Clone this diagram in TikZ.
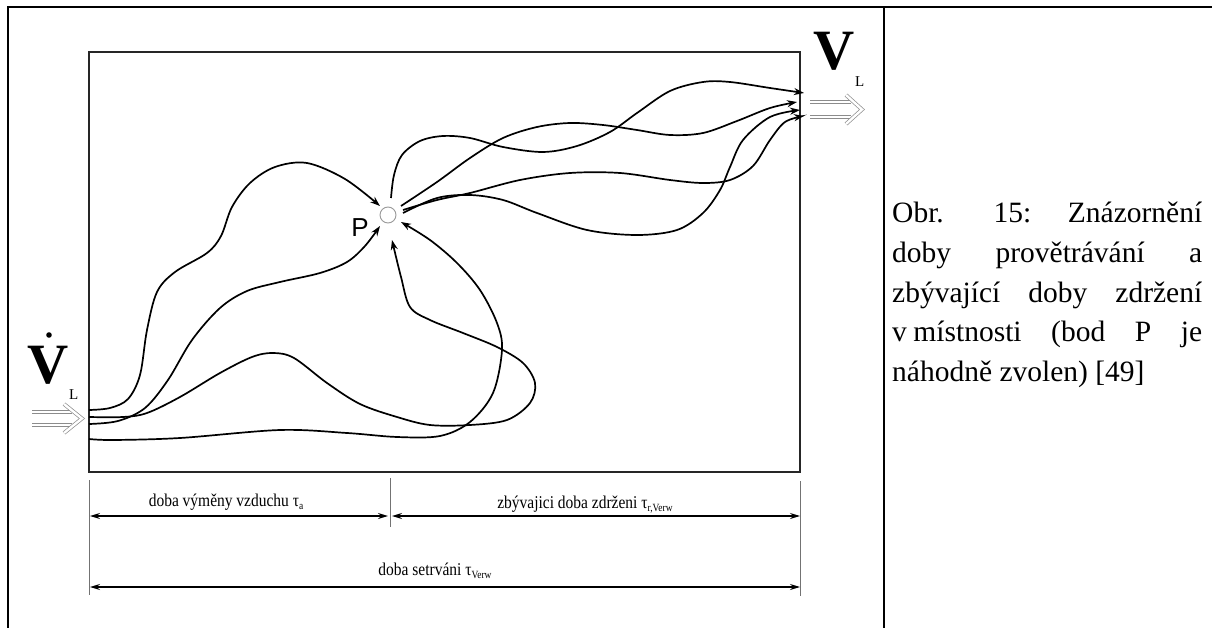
\documentclass[tikz,border=0pt]{standalone}
\usepackage{fontspec}
\setmainfont{Liberation Serif}
\newfontfamily\psans{Liberation Sans}
\newfontfamily\dimfont[FakeStretch=0.86]{Liberation Serif}
\usetikzlibrary{arrows.meta,calc}
\newcommand{\mysub}[1]{\raisebox{-0.22em}{\fontsize{11}{11}\selectfont #1}}
\begin{document}
\begin{tikzpicture}[x=1pt,y=-1pt,
  flow/.style={line width=1.7pt, black, -{Stealth[length=10pt,width=7pt]}},
  dimarrow/.style={line width=1.3pt, {Stealth[length=10pt,width=6pt]}-{Stealth[length=10pt,width=6pt]}},
  tickline/.style={line width=0.8pt, black!55},
  hollow/.style={draw=black!45, line width=0.7pt, double=white, double distance=2.4pt},
  frameline/.style={line width=1.3pt, black},
  dimlabel/.style={font=\dimfont\fontsize{18}{18}\selectfont, inner sep=0pt, anchor=base},
  captionline/.style={font=\fontsize{29.5}{29.5}\selectfont, anchor=base west, inner sep=0pt},
  bigV/.style={font=\bfseries\fontsize{57}{57}\selectfont, inner sep=0pt, anchor=base},
  smallL/.style={font=\fontsize{15}{15}\selectfont, inner sep=0pt, anchor=base west}]
\fill[white] (0,0) rectangle (1212,628);
\useasboundingbox (0,0) rectangle (1212,628);
% table frame
\draw[frameline] (8,628) -- (8,7) -- (1212,7);
\draw[frameline] (884,7) -- (884,628);
\draw[line width=2.4pt] (8,7) -- (22,7);
\draw[line width=2.4pt] (868,7) -- (880,7);
% room
\node[draw=black!85, line width=1.8pt, minimum width=711pt, minimum height=420pt, inner sep=0pt] (room) at (444.5,262) {};
% point P
\node[draw=black!40, line width=0.9pt, circle, minimum size=16pt, inner sep=0pt] (P) at (388,215) {};
\node[font=\psans\fontsize{26}{26}\selectfont, inner sep=0pt] (Plabel) at (360,228) {P};
% inlet / outlet labels
\node[bigV] (Vin) at (48,383) {V};
\fill (49,335) circle (2.8pt);
\node[smallL] (Lin) at (69,399) {L};
\node[bigV] (Vout) at (834,70) {V};
\node[smallL] (Lout) at (855,87) {L};
% hollow arrows
\draw[hollow] (32,412) -- (72,412);
\draw[hollow] (32,425) -- (72,425);
\draw[hollow, line join=miter] (64,404) -- (82,418.5) -- (64,433);
\draw[hollow] (810,102) -- (851,102);
\draw[hollow] (810,117) -- (851,117);
\draw[hollow, line join=miter] (846,95) -- (862,109.5) -- (846,124);
% coordinates of flow ends
\coordinate (a1) at (89,410);
\coordinate (a2) at (89,417);
\coordinate (a3) at (89,424);
\coordinate (a4) at (89,439);
\coordinate (tA) at (380,206);
\coordinate (tB) at (380,226);
\coordinate (tC) at (392,240);
\coordinate (tD) at (401,222);
\coordinate (sE) at (391,198);
\coordinate (sF) at (401,206);
\coordinate (sG) at (403,210);
\coordinate (sH) at (403,213);
\coordinate (rE) at (804,93);
\coordinate (rF) at (797,102);
\coordinate (rH) at (800,110);
\coordinate (rG) at (804,116);
% incoming flows
\draw[flow] plot[smooth, tension=0.55] coordinates {(a1) (110,408) (128,399) (140,375) (147,330) (157,292) (175,272) (207,253) (221,236) (232,207) (250,183) (275,167) (307,163) (345,179) (tA)};
\draw[flow] plot[smooth, tension=0.55] coordinates {(a3) (118,421) (145,408) (168,380) (192,340) (220,308) (247,291) (280,282) (320,273) (347,262) (365,246) (tB)};
\draw[flow] plot[smooth, tension=0.55] coordinates {(a2) (123,417) (147,413) (180,397) (220,373) (252,357) (273,353) (294,358) (327,383) (360,404) (397,417) (430,425) (470,425) (507,420) (530,403) (535,383) (523,363) (497,347) (463,333) (430,320) (410,307) (401,277) (tC)};
\draw[flow] plot[smooth, tension=0.55] coordinates {(a4) (113,440) (180,438) (280,430) (347,433) (397,437) (440,436) (470,422) (493,393) (502,350) (497,323) (480,290) (457,263) (430,240) (tD)};
% outgoing flows
\draw[flow] plot[smooth, tension=0.55] coordinates {(sE) (394,175) (402,155) (420,141) (443,136) (470,138) (503,147) (543,152) (577,146) (610,132) (637,113) (670,91) (703,82) (730,82) (770,88) (rE)};
\draw[flow] plot[smooth, tension=0.55] coordinates {(sF) (437,182) (470,158) (503,138) (537,127) (570,123) (603,125) (637,130) (670,135) (703,133) (737,121) (770,108) (rF)};
\draw[flow] plot[smooth, tension=0.55] coordinates {(sG) (437,200) (470,193) (520,180) (570,173) (620,173) (670,180) (703,183) (730,180) (753,166) (770,140) (785,122) (rG)};
\draw[flow] plot[smooth, tension=0.55] coordinates {(sH) (437,198) (470,195) (503,200) (537,213) (587,230) (637,235) (677,230) (703,213) (720,190) (730,167) (743,140) (770,117) (rH)};
% dimension lines
\coordinate (d0t) at (89,480);
\coordinate (d0b) at (89,595);
\coordinate (d1t) at (390,478);
\coordinate (d1b) at (390,527);
\coordinate (d2t) at (800,481);
\coordinate (d2b) at (800,596);
\draw[tickline] (d0t) -- (d0b);
\draw[tickline] (d1t) -- (d1b);
\draw[tickline] (d2t) -- (d2b);
\coordinate (m0) at (90,516);
\coordinate (m1l) at (388,516);
\coordinate (m1r) at (392,516);
\coordinate (m2) at (800,516);
\coordinate (n0) at (90,587);
\coordinate (n2) at (800,587);
\draw[dimarrow] (m0) -- (m1l);
\draw[dimarrow] (m1r) -- (m2);
\draw[dimarrow] (n0) -- (n2);
\node[dimlabel] (lab1) at (226,506) {doba výměny vzduchu τ\mysub{a}};
\node[dimlabel] (lab2) at (585,508) {zbývajici doba zdrženi τ\mysub{r,Verw}};
\node[dimlabel] (lab3) at (435,575) {doba setrváni τ\mysub{Verw}};
% caption
\node[captionline] (c1) at (892,223) {\makebox[310pt][s]{Obr. 15: Znázornění}};
\node[captionline] (c2) at (892,262.5) {\makebox[310pt][s]{doby provětrávání a}};
\node[captionline] (c3) at (892,302) {\makebox[310pt][s]{zbývající doby zdržení}};
\node[captionline] (c4) at (892,341.5) {\makebox[310pt][s]{v\kern0.22em místnosti (bod P je}};
\node[captionline] (c5) at (892,381) {náhodně zvolen) [49]};
\end{tikzpicture}
\end{document}
